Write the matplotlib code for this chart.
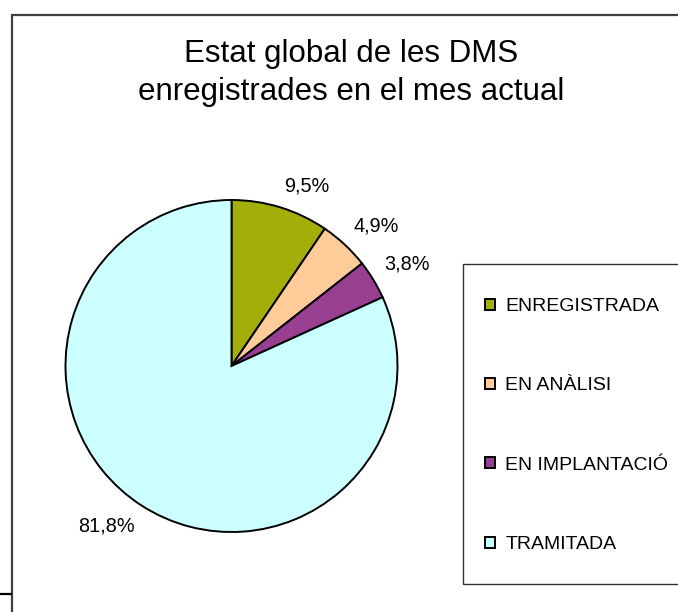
# Estat global de les DMS - pie chart with legend on the right
import matplotlib.pyplot as plt
from matplotlib.patches import Rectangle
from matplotlib.lines import Line2D
import numpy as np

plt.rcParams['font.family'] = ['Liberation Sans', 'DejaVu Sans']

categories = ['ENREGISTRADA', 'EN ANÀLISI', 'EN IMPLANTACIÓ', 'TRAMITADA']
values = [9.5, 4.9, 3.8, 81.8]
colors = ['#A3AE08', '#FFCC99', '#993F92', '#CCFFFF']
title = 'Estat global de les DMS\nenregistrades en el mes actual'

W, H = 678, 612
fig = plt.figure(figsize=(W / 100, H / 100), dpi=100)

# outer chart frame (runs off the right and bottom edge)
fig.patches.append(Rectangle((11.5 / W, -0.1), 1.2, 1 - 14.5 / H + 0.1,
                             transform=fig.transFigure, fill=False,
                             edgecolor='#404040', linewidth=1.6))
fig.add_artist(Line2D([0, 11 / W], [1 - 594 / H, 1 - 594 / H],
                      transform=fig.transFigure, color='black', linewidth=1.6))

# pie axes: center (231, 366), radius 166 px
cx, cy, r = 231.5, 366, 166
ax = fig.add_axes([(cx - r) / W, 1 - (cy + r) / H, 2 * r / W, 2 * r / H])
wedges, texts, autotexts = ax.pie(
    values, colors=colors, startangle=90, counterclock=False,
    autopct=lambda p: f'{p:.1f}%'.replace('.', ','), pctdistance=1.075,
    wedgeprops=dict(edgecolor='black', linewidth=1.4),
    textprops=dict(fontsize=14.3, color='black'))
ax.set_xlim(-1, 1)
ax.set_ylim(-1, 1)
ax.set_aspect('equal')
ax.axis('off')

for w, t in zip(wedges, autotexts):
    ang = np.deg2rad((w.theta1 + w.theta2) / 2)
    t.set_ha('left' if np.cos(ang) > 0 else 'right')
    t.set_va('bottom' if np.sin(ang) > 0 else 'top')
    t.set_clip_on(False)

fig.text(351 / W, 1 - 73 / H, title, ha='center', va='center',
         fontsize=22.5, linespacing=1.36)

# legend box (also runs off the right edge)
fig.patches.append(Rectangle((463 / W, 1 - 584 / H), 0.5, (584 - 264) / H,
                             transform=fig.transFigure, fill=False,
                             edgecolor='#303030', linewidth=1.0))
fig.legend(wedges, categories, loc='upper left',
           bbox_to_anchor=(485 / W, 1 - 298 / H), frameon=False,
           fontsize=14, borderpad=0, borderaxespad=0,
           handlelength=0.5, handleheight=0.5, handletextpad=0.55,
           labelspacing=3.21)

plt.savefig('out.png', dpi=100)
